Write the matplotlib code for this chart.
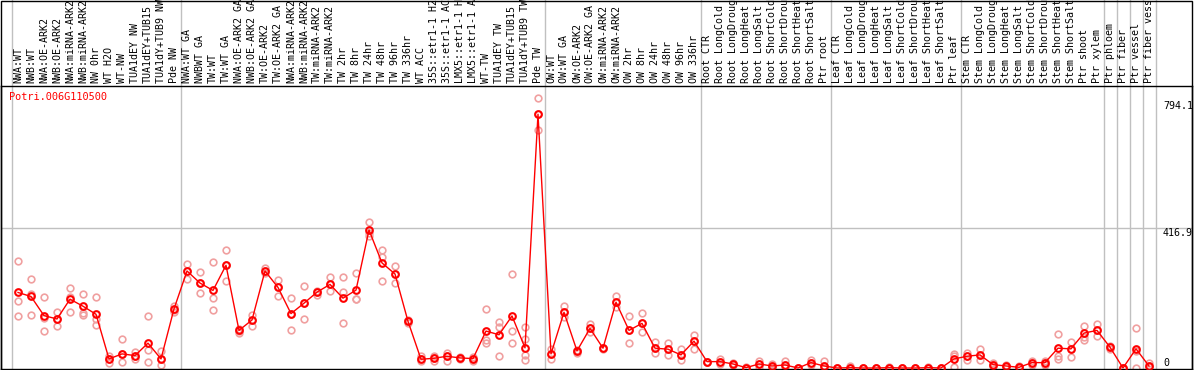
import matplotlib
matplotlib.use("Agg")
import matplotlib.pyplot as plt
from matplotlib.patches import Rectangle

gene = "Potri.006G110500"

samples = [
    "NWA:WT", "NWB:WT", "NWA:OE-ARK2", "NWB:OE-ARK2", "NWA:miRNA-ARK2", "NWB:miRNA-ARK2",
    "NW 0hr", "WT H2O", "WT-NW", "TUA1dEY NW", "TUA1dEY+TUB15", "TUA1dY+TUB9 NW", "Pde NW",
    "NWA:WT GA", "NWBWT GA", "TW:WT", "TW:WT GA", "NWA:OE-ARK2 GA", "NWB:OE-ARK2 GA",
    "TW:OE-ARK2", "TW:OE-ARK2 GA", "NWA:miRNA-ARK2", "NWB:miRNA-ARK2", "TW:miRNA-ARK2",
    "TW:miRNA-ARK2", "TW 2hr", "TW 8hr", "TW 24hr", "TW 48hr", "TW 96hr", "TW 336hr",
    "WT ACC", "35S::etr1-1 H2O", "35S::etr1-1 ACC", "LMX5::etr1-1 H2O", "LMX5::etr1-1 ACC",
    "WT-TW", "TUA1dEY TW", "TUA1dEY+TUB15", "TUA1dY+TUB9 TW", "Pde TW",
    "OW:WT", "OW:WT GA", "OW:OE-ARK2", "OW:OE-ARK2 GA", "OW:miRNA-ARK2", "OW:miRNA-ARK2",
    "OW 2hr", "OW 8hr", "OW 24hr", "OW 48hr", "OW 96hr", "OW 336hr",
    "Root CTR", "Root LongCold", "Root LongDrought", "Root LongHeat", "Root LongSalt",
    "Root ShortCold", "Root ShortDrought", "Root ShortHeat", "Root ShortSalt", "Ptr root",
    "Leaf CTR", "Leaf LongCold", "Leaf LongDrought", "Leaf LongHeat", "Leaf LongSalt",
    "Leaf ShortCold", "Leaf ShortDrought", "Leaf ShortHeat", "Leaf ShortSalt", "Ptr leaf",
    "Stem CTR", "Stem LongCold", "Stem LongDrought", "Stem LongHeat", "Stem LongSalt",
    "Stem ShortCold", "Stem ShortDrought", "Stem ShortHeat", "Stem ShortSalt", "Ptr shoot",
    "Ptr xylem", "Ptr phloem", "Ptr fiber", "Ptr vessel", "Ptr fiber vessel",
]

means = [
    225, 213, 156, 146, 205, 184, 160, 27, 42, 37, 74, 27, 176,
    289, 253, 231, 306, 112, 143, 289, 240, 162, 193, 226, 249, 208, 232, 411, 313,
    280, 139, 26, 29, 35, 30, 28, 110, 99, 155, 60, 756,
    42, 166, 51, 118, 59, 196, 112, 133, 59, 56, 39, 80,
    19, 19, 12, 1, 12, 6, 9, 0, 16, 6,
    0, 1, 0, 0, 1, 0, 0, 1, 0, 27,
    35, 39, 10, 6, 2, 16, 16, 59, 57, 104, 112,
    62, 0, 57, 6,
]

replicates = [
    [319, 200, 155], [265, 219, 157], [211, 148, 110], [168, 146, 124], [237, 212, 167],
    [219, 165, 157], [211, 145, 129], [37, 27, 15], [85, 41, 19], [47, 37, 26],
    [154, 54, 17], [51, 27, 10], [185, 173, 166],
    [309, 289, 264], [286, 253, 222], [316, 208, 172], [350, 306, 258], [115, 110, 105],
    [158, 143, 125], [297, 289, 284], [261, 240, 215], [208, 161, 112], [244, 193, 146],
    [230, 226, 217], [270, 249, 228], [270, 226, 133], [283, 206, 205], [434, 401, 393],
    [351, 331, 259], [304, 280, 252], [143, 139, 133], [37, 26, 20], [37, 29, 21],
    [46, 35, 20], [32, 30, 26], [32, 28, 22], [176, 83, 74], [137, 122, 36],
    [280, 110, 74], [122, 86, 39, 23], [804, 756, 709],
    [57, 42, 27], [185, 166, 153], [54, 51, 44], [130, 118, 106], [60, 59, 56],
    [215, 196, 181], [155, 113, 75], [164, 133, 106], [78, 60, 44], [74, 56, 38],
    [58, 39, 24], [98, 80, 58],
    [19, 19, 18], [28, 19, 12], [15, 12, 9], [2, 1, 0], [22, 12, 4], [12, 6, 2],
    [21, 9, 2], [0, 0, 1], [24, 16, 10], [20, 6, 0],
    [0, 0, 1], [6, 1, 0], [0, 0, 0], [0, 1, 0], [2, 1, 0], [0, 0, 1], [0, 1, 0],
    [2, 1, 0], [0, 0, 1], [42, 36, 2],
    [46, 35, 24], [56, 39, 24], [14, 10, 6], [10, 6, 2], [6, 2, 0], [22, 16, 9],
    [22, 16, 10], [101, 36, 28], [77, 57, 32], [125, 91, 83], [132, 112, 95],
    [66, 62, 58], [0, 0, 1], [118, 52, 0], [14, 6, 2],
]

group_bounds = [-0.5, 12.5, 40.5, 52.5, 62.5, 72.5, 83.5, 84.5, 85.5, 86.5, 87.5]
tick_values = [794.1, 416.9, 0]

W, H = 1194, 370
fig = plt.figure(figsize=(W / 100, H / 100), dpi=100)
ax = fig.add_axes([1 / W, 1 / H, 1191 / W, 283 / H])

xs = list(range(len(samples)))
mono = "DejaVu Sans Mono"
grey = "#c0c0c0"

# replicate points first, mean line on top
for x, reps in zip(xs, replicates):
    ax.plot([x] * len(reps), reps, "o", mfc="none", mec="#f0a0a0", ms=4.8, mew=1.2, zorder=2)
ax.plot(xs, means, "-", color="red", lw=1, marker="o", mfc="none", mec="red",
        ms=4.8, mew=1.5, zorder=3)

ax.set_xlim((1 - 18) / 13, (1192 - 18) / 13)
ax.set_ylim(-3, 840)
ax.set_xticks([])
ax.set_yticks([])
for s in ax.spines.values():
    s.set_color("black")
    s.set_linewidth(1)

ax.axhline(416.9, color=grey, lw=1, zorder=1)
ax.vlines(group_bounds, 0, 1.31, transform=ax.get_xaxis_transform(),
          colors=grey, lw=1, clip_on=False, zorder=1)

# sample names along the top (long ones run off the top edge, as in the original)
for x, name in zip(xs, samples):
    ax.text(x, 1 + 3 / 283, name, rotation=90, ha="center", va="bottom",
            transform=ax.get_xaxis_transform(), fontsize=7.2, family=mono, clip_on=False)

# value labels on the right
tx = (1163 - 18) / 13
for v in tick_values:
    ax.text(tx, v, "0" if v == 0 else f"{v}", ha="left",
            va="bottom" if v == 0 else "top", fontsize=7.2, family=mono)

fig.text(9 / W, 1 - 97 / H, gene, color="red", ha="left", va="center",
         fontsize=7.4, family=mono)

fig.add_artist(Rectangle((1 / W, 0), 1191 / W, 1 - 0.5 / H, transform=fig.transFigure,
                         fill=False, ec="black", lw=1))

fig.savefig("out.png", dpi=100)
